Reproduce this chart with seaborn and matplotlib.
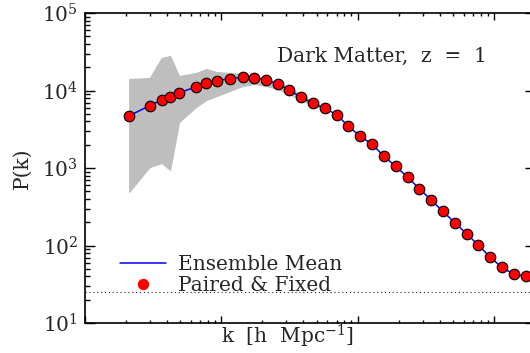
import numpy as np
import pandas as pd
import matplotlib
matplotlib.use("Agg")
import matplotlib.pyplot as plt
import seaborn as sns
from matplotlib.lines import Line2D
from matplotlib.ticker import LogLocator, NullFormatter

# Wavenumbers [h/Mpc] of the power-spectrum bins
k = [0.00211, 0.00298, 0.00365, 0.00421, 0.00490, 0.00652, 0.00776, 0.00925,
     0.01152, 0.01436, 0.01738, 0.02117, 0.02594, 0.03152, 0.03843, 0.04685,
     0.05738, 0.07029, 0.08546, 0.1047, 0.1282, 0.1554, 0.1904, 0.2331,
     0.2836, 0.3456, 0.4210, 0.5159, 0.6316, 0.7683, 0.9362, 1.141, 1.397, 1.711]

# Mean P(k) of the standard realizations
pk_mean = [4730, 6370, 7540, 8320, 9370, 11100, 12390, 13380, 14200, 14800,
           14630, 13650, 12130, 10150, 8170, 6840, 5890, 4870, 3450, 2560,
           2020, 1420, 1050, 759, 541, 386, 277, 197, 141, 101, 71, 52.3,
           42.5, 40.1]

# P(k) of the paired & fixed pair
pk_paired = [4730, 6370, 7540, 8320, 9370, 11100, 12390, 13380, 14200, 14800,
             14630, 13650, 12130, 10150, 8170, 6840, 5890, 4870, 3450, 2560,
             2020, 1420, 1050, 759, 541, 386, 277, 197, 141, 101, 71, 52.3,
             42.5, 40.1]

# Envelope of the individual realizations (large-scale cosmic variance)
k_band = k[:17]
pk_band_hi = [14070, 14500, 26270, 27860, 15380, 16830, 18940, 17330, 16830,
              16330, 15380, 14070, 12870, 10760, 8750, 7320, 5990]
pk_band_lo = [490, 1030, 1160, 942, 3920, 6120, 7540, 8490, 9860, 11430,
              12130, 11430, 10450, 9010, 7540, 6500, 5790]

shot_noise = 25.0

title_text = "Dark Matter,  z  =  1"
legend_labels = ["Ensemble Mean", "Paired & Fixed"]

sns.set_style("ticks")
plt.rcParams["font.family"] = ["DejaVu Serif"]
plt.rcParams["mathtext.fontset"] = "dejavuserif"

FS = 14.5

fig = plt.figure(figsize=(5.30, 3.53), dpi=100)
ax = fig.add_axes([85 / 530, 1 - 323 / 353, 450 / 530, 310 / 353])

df = pd.DataFrame({"k": k, "mean": pk_mean, "paired": pk_paired})

ax.fill_between(k_band, pk_band_lo, pk_band_hi, color="#bebebe",
                edgecolor="#bebebe", lw=0.8, zorder=1)
sns.lineplot(data=df, x="k", y="mean", color="#0000ff", lw=1.1, ax=ax,
             zorder=2, legend=False)
sns.scatterplot(data=df, x="k", y="paired", color="#ff0000", edgecolor="black",
                linewidth=0.8, s=58, ax=ax, zorder=3, legend=False)
ax.axhline(shot_noise, ls=(0, (1, 2.5)), color="#222222", lw=0.8, zorder=1)

ax.set_xscale("log")
ax.set_yscale("log")
ax.set_xlim(1e-3, 2.0)
ax.set_ylim(10, 1e5)

for side in ax.spines.values():
    side.set_linewidth(1.2)
    side.set_color("black")

ax.yaxis.set_major_locator(LogLocator(base=10, numticks=10))
ax.yaxis.set_minor_locator(LogLocator(base=10, subs=np.arange(2, 10), numticks=20))
ax.xaxis.set_major_locator(LogLocator(base=10, numticks=10))
ax.xaxis.set_minor_locator(LogLocator(base=10, subs=np.arange(2, 10), numticks=20))
ax.xaxis.set_major_formatter(NullFormatter())
ax.xaxis.set_minor_formatter(NullFormatter())

ax.tick_params(which="both", direction="in", top=True, right=True,
               color="black", width=1.0)
ax.tick_params(axis="y", which="major", length=7.2, labelsize=FS, pad=5)
ax.tick_params(axis="y", which="minor", length=3.6)
ax.tick_params(axis="x", which="major", length=4.7)
ax.tick_params(axis="x", which="minor", length=2.5)

ax.set_xlabel(r"k  [h  Mpc$^{-1}$]", fontsize=FS)
ax.set_ylabel("P(k)", fontsize=FS)
ax.xaxis.set_label_coords((287 - 85) / 450, 0.0)
ax.yaxis.set_label_coords(-(85 - 32) / 450, 0.5)

ax.text((277 - 85) / 450, (323 - 56) / 310, title_text, transform=ax.transAxes,
        ha="left", va="center", fontsize=FS)

handles = [Line2D([], [], color="#0000ff", lw=1.1),
           Line2D([], [], marker="o", ls="", color="#ff0000", markersize=7.2)]
ax.legend(handles, legend_labels, loc="upper left",
          bbox_to_anchor=((120 - 85) / 450, (323 - 255) / 310),
          frameon=False, fontsize=FS, handlelength=2.3, handletextpad=0.6,
          labelspacing=0.1, borderpad=0, borderaxespad=0)

fig.savefig("out.png", dpi=100)
